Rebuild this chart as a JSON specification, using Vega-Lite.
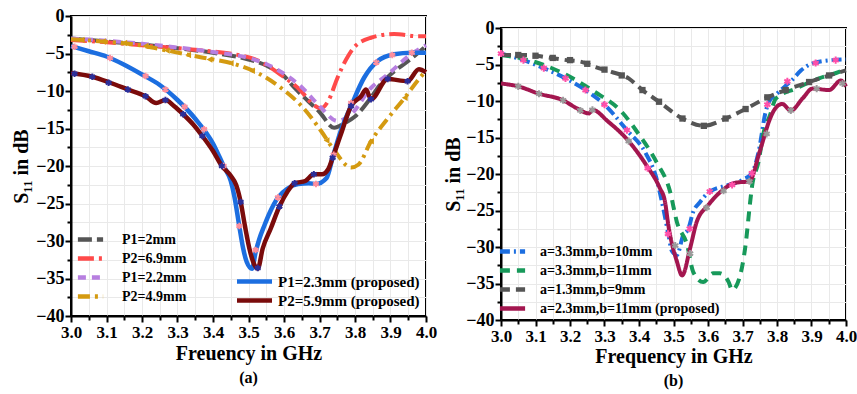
{
  "$schema": "https://vega.github.io/schema/vega-lite/v6.json",
  "padding": {"left": 10, "top": 6, "right": 4, "bottom": 0},
  "spacing": 4,
  "config": {
    "font": "Liberation Serif",
    "view": {"stroke": "black", "strokeWidth": 2},
    "axis": {
      "labelFont": "Liberation Serif", "labelFontWeight": "bold", "labelFontSize": 18, "labelColor": "black", "labelFlush": false,
      "titleFont": "Liberation Serif", "titleFontWeight": "bold", "titleFontSize": 20, "titleColor": "black",
      "domainColor": "black", "domainWidth": 2, "tickColor": "black", "tickWidth": 2,
      "gridColor": "#e9e9e9", "gridWidth": 1
    },
    "axisX": {"labelFontSize": 17},
    "legend": {
      "labelFont": "Liberation Serif", "labelFontWeight": "bold", "labelFontSize": 14, "labelColor": "black", "labelLimit": 400,
      "symbolStrokeWidth": 4.5, "title": null, "padding": 0
    },
    "title": {"font": "Liberation Serif", "fontWeight": "bold", "fontSize": 16, "color": "black"}
  },
  "datasets": {
    "a": [
      {"series": "P1=2mm", "f": 3.00, "s": -3.0}, {"series": "P1=2mm", "f": 3.10, "s": -3.4}, {"series": "P1=2mm", "f": 3.20, "s": -3.8}, {"series": "P1=2mm", "f": 3.30, "s": -4.3}, {"series": "P1=2mm", "f": 3.40, "s": -4.9}, {"series": "P1=2mm", "f": 3.50, "s": -5.8}, {"series": "P1=2mm", "f": 3.55, "s": -6.6}, {"series": "P1=2mm", "f": 3.60, "s": -8.0}, {"series": "P1=2mm", "f": 3.63, "s": -9.6}, {"series": "P1=2mm", "f": 3.667, "s": -11.3}, {"series": "P1=2mm", "f": 3.70, "s": -12.8}, {"series": "P1=2mm", "f": 3.741, "s": -14.9}, {"series": "P1=2mm", "f": 3.77, "s": -14.3}, {"series": "P1=2mm", "f": 3.80, "s": -13.4}, {"series": "P1=2mm", "f": 3.843, "s": -11.0}, {"series": "P1=2mm", "f": 3.87, "s": -9.2}, {"series": "P1=2mm", "f": 3.90, "s": -7.8}, {"series": "P1=2mm", "f": 3.95, "s": -6.0}, {"series": "P1=2mm", "f": 4.00, "s": -4.0},
      {"series": "P2=6.9mm", "f": 3.00, "s": -3.2}, {"series": "P2=6.9mm", "f": 3.10, "s": -3.5}, {"series": "P2=6.9mm", "f": 3.20, "s": -3.9}, {"series": "P2=6.9mm", "f": 3.30, "s": -4.3}, {"series": "P2=6.9mm", "f": 3.37, "s": -4.6}, {"series": "P2=6.9mm", "f": 3.46, "s": -5.1}, {"series": "P2=6.9mm", "f": 3.52, "s": -5.8}, {"series": "P2=6.9mm", "f": 3.59, "s": -7.8}, {"series": "P2=6.9mm", "f": 3.648, "s": -10.0}, {"series": "P2=6.9mm", "f": 3.68, "s": -11.7}, {"series": "P2=6.9mm", "f": 3.704, "s": -12.3}, {"series": "P2=6.9mm", "f": 3.725, "s": -11.3}, {"series": "P2=6.9mm", "f": 3.751, "s": -8.2}, {"series": "P2=6.9mm", "f": 3.775, "s": -5.8}, {"series": "P2=6.9mm", "f": 3.797, "s": -4.2}, {"series": "P2=6.9mm", "f": 3.845, "s": -2.9}, {"series": "P2=6.9mm", "f": 3.91, "s": -2.4}, {"series": "P2=6.9mm", "f": 3.977, "s": -2.7}, {"series": "P2=6.9mm", "f": 4.00, "s": -2.7},
      {"series": "P1=2.2mm", "f": 3.00, "s": -3.0}, {"series": "P1=2.2mm", "f": 3.10, "s": -3.3}, {"series": "P1=2.2mm", "f": 3.20, "s": -3.7}, {"series": "P1=2.2mm", "f": 3.30, "s": -4.2}, {"series": "P1=2.2mm", "f": 3.40, "s": -4.8}, {"series": "P1=2.2mm", "f": 3.50, "s": -5.6}, {"series": "P1=2.2mm", "f": 3.55, "s": -6.4}, {"series": "P1=2.2mm", "f": 3.60, "s": -7.7}, {"series": "P1=2.2mm", "f": 3.65, "s": -9.5}, {"series": "P1=2.2mm", "f": 3.70, "s": -12.0}, {"series": "P1=2.2mm", "f": 3.751, "s": -14.0}, {"series": "P1=2.2mm", "f": 3.789, "s": -13.1}, {"series": "P1=2.2mm", "f": 3.845, "s": -9.6}, {"series": "P1=2.2mm", "f": 3.892, "s": -7.8}, {"series": "P1=2.2mm", "f": 3.958, "s": -5.1}, {"series": "P1=2.2mm", "f": 4.00, "s": -3.9},
      {"series": "P2=4.9mm", "f": 3.00, "s": -3.1}, {"series": "P2=4.9mm", "f": 3.09, "s": -3.4}, {"series": "P2=4.9mm", "f": 3.18, "s": -3.8}, {"series": "P2=4.9mm", "f": 3.27, "s": -4.6}, {"series": "P2=4.9mm", "f": 3.365, "s": -5.5}, {"series": "P2=4.9mm", "f": 3.46, "s": -6.4}, {"series": "P2=4.9mm", "f": 3.53, "s": -7.7}, {"series": "P2=4.9mm", "f": 3.592, "s": -9.6}, {"series": "P2=4.9mm", "f": 3.657, "s": -12.4}, {"series": "P2=4.9mm", "f": 3.704, "s": -15.3}, {"series": "P2=4.9mm", "f": 3.74, "s": -17.8}, {"series": "P2=4.9mm", "f": 3.789, "s": -20.2}, {"series": "P2=4.9mm", "f": 3.81, "s": -19.8}, {"series": "P2=4.9mm", "f": 3.845, "s": -16.7}, {"series": "P2=4.9mm", "f": 3.89, "s": -13.8}, {"series": "P2=4.9mm", "f": 3.94, "s": -10.9}, {"series": "P2=4.9mm", "f": 3.98, "s": -8.4}, {"series": "P2=4.9mm", "f": 4.00, "s": -7.3},
      {"series": "P1=2.3mm (proposed)", "f": 3.00, "s": -4.0}, {"series": "P1=2.3mm (proposed)", "f": 3.05, "s": -4.7}, {"series": "P1=2.3mm (proposed)", "f": 3.10, "s": -5.4}, {"series": "P1=2.3mm (proposed)", "f": 3.15, "s": -6.5}, {"series": "P1=2.3mm (proposed)", "f": 3.20, "s": -7.8}, {"series": "P1=2.3mm (proposed)", "f": 3.25, "s": -9.2}, {"series": "P1=2.3mm (proposed)", "f": 3.30, "s": -11.2}, {"series": "P1=2.3mm (proposed)", "f": 3.35, "s": -13.7}, {"series": "P1=2.3mm (proposed)", "f": 3.40, "s": -17.0}, {"series": "P1=2.3mm (proposed)", "f": 3.43, "s": -20.0}, {"series": "P1=2.3mm (proposed)", "f": 3.45, "s": -22.0}, {"series": "P1=2.3mm (proposed)", "f": 3.46, "s": -24.0}, {"series": "P1=2.3mm (proposed)", "f": 3.474, "s": -28.0}, {"series": "P1=2.3mm (proposed)", "f": 3.485, "s": -31.0}, {"series": "P1=2.3mm (proposed)", "f": 3.495, "s": -32.8}, {"series": "P1=2.3mm (proposed)", "f": 3.51, "s": -33.7}, {"series": "P1=2.3mm (proposed)", "f": 3.52, "s": -31.5}, {"series": "P1=2.3mm (proposed)", "f": 3.53, "s": -29.8}, {"series": "P1=2.3mm (proposed)", "f": 3.545, "s": -27.9}, {"series": "P1=2.3mm (proposed)", "f": 3.56, "s": -26.2}, {"series": "P1=2.3mm (proposed)", "f": 3.583, "s": -24.2}, {"series": "P1=2.3mm (proposed)", "f": 3.61, "s": -23.0}, {"series": "P1=2.3mm (proposed)", "f": 3.64, "s": -22.4}, {"series": "P1=2.3mm (proposed)", "f": 3.67, "s": -22.3}, {"series": "P1=2.3mm (proposed)", "f": 3.69, "s": -22.4}, {"series": "P1=2.3mm (proposed)", "f": 3.72, "s": -21.6}, {"series": "P1=2.3mm (proposed)", "f": 3.737, "s": -18.9}, {"series": "P1=2.3mm (proposed)", "f": 3.76, "s": -15.3}, {"series": "P1=2.3mm (proposed)", "f": 3.789, "s": -12.0}, {"series": "P1=2.3mm (proposed)", "f": 3.826, "s": -8.2}, {"series": "P1=2.3mm (proposed)", "f": 3.864, "s": -6.0}, {"series": "P1=2.3mm (proposed)", "f": 3.91, "s": -5.1}, {"series": "P1=2.3mm (proposed)", "f": 3.96, "s": -4.9}, {"series": "P1=2.3mm (proposed)", "f": 4.00, "s": -4.9},
      {"series": "P2=5.9mm (proposed)", "f": 3.00, "s": -7.6}, {"series": "P2=5.9mm (proposed)", "f": 3.06, "s": -8.1}, {"series": "P2=5.9mm (proposed)", "f": 3.11, "s": -8.9}, {"series": "P2=5.9mm (proposed)", "f": 3.16, "s": -9.8}, {"series": "P2=5.9mm (proposed)", "f": 3.21, "s": -10.7}, {"series": "P2=5.9mm (proposed)", "f": 3.24, "s": -11.6}, {"series": "P2=5.9mm (proposed)", "f": 3.266, "s": -11.2}, {"series": "P2=5.9mm (proposed)", "f": 3.29, "s": -12.0}, {"series": "P2=5.9mm (proposed)", "f": 3.316, "s": -13.1}, {"series": "P2=5.9mm (proposed)", "f": 3.345, "s": -14.5}, {"series": "P2=5.9mm (proposed)", "f": 3.37, "s": -16.0}, {"series": "P2=5.9mm (proposed)", "f": 3.40, "s": -18.0}, {"series": "P2=5.9mm (proposed)", "f": 3.425, "s": -20.0}, {"series": "P2=5.9mm (proposed)", "f": 3.45, "s": -21.3}, {"series": "P2=5.9mm (proposed)", "f": 3.465, "s": -22.5}, {"series": "P2=5.9mm (proposed)", "f": 3.478, "s": -24.8}, {"series": "P2=5.9mm (proposed)", "f": 3.49, "s": -28.0}, {"series": "P2=5.9mm (proposed)", "f": 3.505, "s": -31.5}, {"series": "P2=5.9mm (proposed)", "f": 3.518, "s": -33.3}, {"series": "P2=5.9mm (proposed)", "f": 3.526, "s": -33.7}, {"series": "P2=5.9mm (proposed)", "f": 3.54, "s": -31.0}, {"series": "P2=5.9mm (proposed)", "f": 3.563, "s": -28.3}, {"series": "P2=5.9mm (proposed)", "f": 3.587, "s": -25.4}, {"series": "P2=5.9mm (proposed)", "f": 3.61, "s": -23.4}, {"series": "P2=5.9mm (proposed)", "f": 3.63, "s": -22.3}, {"series": "P2=5.9mm (proposed)", "f": 3.66, "s": -22.0}, {"series": "P2=5.9mm (proposed)", "f": 3.684, "s": -21.1}, {"series": "P2=5.9mm (proposed)", "f": 3.707, "s": -21.1}, {"series": "P2=5.9mm (proposed)", "f": 3.725, "s": -20.4}, {"series": "P2=5.9mm (proposed)", "f": 3.737, "s": -18.9}, {"series": "P2=5.9mm (proposed)", "f": 3.76, "s": -15.8}, {"series": "P2=5.9mm (proposed)", "f": 3.789, "s": -12.0}, {"series": "P2=5.9mm (proposed)", "f": 3.817, "s": -10.7}, {"series": "P2=5.9mm (proposed)", "f": 3.831, "s": -9.8}, {"series": "P2=5.9mm (proposed)", "f": 3.845, "s": -11.1}, {"series": "P2=5.9mm (proposed)", "f": 3.892, "s": -8.4}, {"series": "P2=5.9mm (proposed)", "f": 3.948, "s": -8.7}, {"series": "P2=5.9mm (proposed)", "f": 3.98, "s": -7.1}, {"series": "P2=5.9mm (proposed)", "f": 4.00, "s": -7.5}
    ],
    "am": [
      {"series": "P1=2.3mm (proposed)", "f": 3.01, "s": -4.1}, {"series": "P1=2.3mm (proposed)", "f": 3.11, "s": -5.6}, {"series": "P1=2.3mm (proposed)", "f": 3.21, "s": -8.0}, {"series": "P1=2.3mm (proposed)", "f": 3.266, "s": -9.8}, {"series": "P1=2.3mm (proposed)", "f": 3.32, "s": -12.1}, {"series": "P1=2.3mm (proposed)", "f": 3.375, "s": -15.1}, {"series": "P1=2.3mm (proposed)", "f": 3.43, "s": -20.0}, {"series": "P1=2.3mm (proposed)", "f": 3.474, "s": -28.0}, {"series": "P1=2.3mm (proposed)", "f": 3.52, "s": -31.2}, {"series": "P1=2.3mm (proposed)", "f": 3.583, "s": -24.2}, {"series": "P1=2.3mm (proposed)", "f": 3.69, "s": -22.4}, {"series": "P1=2.3mm (proposed)", "f": 3.74, "s": -18.5}, {"series": "P1=2.3mm (proposed)", "f": 3.789, "s": -11.6}, {"series": "P1=2.3mm (proposed)", "f": 3.86, "s": -6.2}, {"series": "P1=2.3mm (proposed)", "f": 3.905, "s": -5.2}, {"series": "P1=2.3mm (proposed)", "f": 3.96, "s": -4.9},
      {"series": "P2=5.9mm (proposed)", "f": 3.01, "s": -7.7}, {"series": "P2=5.9mm (proposed)", "f": 3.06, "s": -8.1}, {"series": "P2=5.9mm (proposed)", "f": 3.106, "s": -8.9}, {"series": "P2=5.9mm (proposed)", "f": 3.16, "s": -9.8}, {"series": "P2=5.9mm (proposed)", "f": 3.21, "s": -10.7}, {"series": "P2=5.9mm (proposed)", "f": 3.266, "s": -11.2}, {"series": "P2=5.9mm (proposed)", "f": 3.316, "s": -13.1}, {"series": "P2=5.9mm (proposed)", "f": 3.37, "s": -16.0}, {"series": "P2=5.9mm (proposed)", "f": 3.425, "s": -20.0}, {"series": "P2=5.9mm (proposed)", "f": 3.478, "s": -24.8}, {"series": "P2=5.9mm (proposed)", "f": 3.526, "s": -33.6}, {"series": "P2=5.9mm (proposed)", "f": 3.587, "s": -25.4}, {"series": "P2=5.9mm (proposed)", "f": 3.63, "s": -22.3}, {"series": "P2=5.9mm (proposed)", "f": 3.684, "s": -21.1}, {"series": "P2=5.9mm (proposed)", "f": 3.737, "s": -18.9}, {"series": "P2=5.9mm (proposed)", "f": 3.789, "s": -12.0}, {"series": "P2=5.9mm (proposed)", "f": 3.845, "s": -11.1}, {"series": "P2=5.9mm (proposed)", "f": 3.892, "s": -8.4}, {"series": "P2=5.9mm (proposed)", "f": 3.948, "s": -8.7},
      {"series": "P2=4.9mm", "f": 3.03, "s": -3.2}, {"series": "P2=4.9mm", "f": 3.09, "s": -3.4}, {"series": "P2=4.9mm", "f": 3.15, "s": -3.6}, {"series": "P2=4.9mm", "f": 3.21, "s": -4.0}, {"series": "P2=4.9mm", "f": 3.27, "s": -4.6}, {"series": "P2=4.9mm", "f": 3.33, "s": -5.2}, {"series": "P2=4.9mm", "f": 3.39, "s": -5.8}, {"series": "P2=4.9mm", "f": 3.45, "s": -6.3}, {"series": "P2=4.9mm", "f": 3.51, "s": -7.3}, {"series": "P2=4.9mm", "f": 3.72, "s": -16.6}, {"series": "P2=4.9mm", "f": 3.845, "s": -16.7}, {"series": "P2=4.9mm", "f": 3.94, "s": -10.9}
    ],
    "b": [
      {"series": "a=3.3mm,b=10mm", "f": 3.00, "s": -3.5}, {"series": "a=3.3mm,b=10mm", "f": 3.065, "s": -4.4}, {"series": "a=3.3mm,b=10mm", "f": 3.124, "s": -5.5}, {"series": "a=3.3mm,b=10mm", "f": 3.187, "s": -6.9}, {"series": "a=3.3mm,b=10mm", "f": 3.245, "s": -8.5}, {"series": "a=3.3mm,b=10mm", "f": 3.30, "s": -10.5}, {"series": "a=3.3mm,b=10mm", "f": 3.365, "s": -14.0}, {"series": "a=3.3mm,b=10mm", "f": 3.42, "s": -17.2}, {"series": "a=3.3mm,b=10mm", "f": 3.45, "s": -20.5}, {"series": "a=3.3mm,b=10mm", "f": 3.465, "s": -23.5}, {"series": "a=3.3mm,b=10mm", "f": 3.485, "s": -28.2}, {"series": "a=3.3mm,b=10mm", "f": 3.495, "s": -30.5}, {"series": "a=3.3mm,b=10mm", "f": 3.51, "s": -31.1}, {"series": "a=3.3mm,b=10mm", "f": 3.528, "s": -28.4}, {"series": "a=3.3mm,b=10mm", "f": 3.543, "s": -27.5}, {"series": "a=3.3mm,b=10mm", "f": 3.557, "s": -25.2}, {"series": "a=3.3mm,b=10mm", "f": 3.576, "s": -23.9}, {"series": "a=3.3mm,b=10mm", "f": 3.605, "s": -22.4}, {"series": "a=3.3mm,b=10mm", "f": 3.66, "s": -21.5}, {"series": "a=3.3mm,b=10mm", "f": 3.70, "s": -20.8}, {"series": "a=3.3mm,b=10mm", "f": 3.727, "s": -19.9}, {"series": "a=3.3mm,b=10mm", "f": 3.747, "s": -16.9}, {"series": "a=3.3mm,b=10mm", "f": 3.767, "s": -11.5}, {"series": "a=3.3mm,b=10mm", "f": 3.777, "s": -10.1}, {"series": "a=3.3mm,b=10mm", "f": 3.80, "s": -9.0}, {"series": "a=3.3mm,b=10mm", "f": 3.844, "s": -7.1}, {"series": "a=3.3mm,b=10mm", "f": 3.87, "s": -5.8}, {"series": "a=3.3mm,b=10mm", "f": 3.90, "s": -4.9}, {"series": "a=3.3mm,b=10mm", "f": 3.96, "s": -4.4}, {"series": "a=3.3mm,b=10mm", "f": 4.00, "s": -4.3},
      {"series": "a=3.3mm,b=11mm", "f": 3.00, "s": -3.7}, {"series": "a=3.3mm,b=11mm", "f": 3.08, "s": -4.4}, {"series": "a=3.3mm,b=11mm", "f": 3.18, "s": -6.2}, {"series": "a=3.3mm,b=11mm", "f": 3.27, "s": -8.7}, {"series": "a=3.3mm,b=11mm", "f": 3.35, "s": -11.5}, {"series": "a=3.3mm,b=11mm", "f": 3.40, "s": -14.6}, {"series": "a=3.3mm,b=11mm", "f": 3.45, "s": -18.3}, {"series": "a=3.3mm,b=11mm", "f": 3.49, "s": -22.4}, {"series": "a=3.3mm,b=11mm", "f": 3.51, "s": -26.6}, {"series": "a=3.3mm,b=11mm", "f": 3.54, "s": -29.8}, {"series": "a=3.3mm,b=11mm", "f": 3.557, "s": -33.4}, {"series": "a=3.3mm,b=11mm", "f": 3.586, "s": -34.8}, {"series": "a=3.3mm,b=11mm", "f": 3.615, "s": -33.6}, {"series": "a=3.3mm,b=11mm", "f": 3.634, "s": -33.6}, {"series": "a=3.3mm,b=11mm", "f": 3.66, "s": -34.8}, {"series": "a=3.3mm,b=11mm", "f": 3.67, "s": -35.9}, {"series": "a=3.3mm,b=11mm", "f": 3.69, "s": -34.4}, {"series": "a=3.3mm,b=11mm", "f": 3.71, "s": -29.3}, {"series": "a=3.3mm,b=11mm", "f": 3.72, "s": -24.8}, {"series": "a=3.3mm,b=11mm", "f": 3.727, "s": -21.9}, {"series": "a=3.3mm,b=11mm", "f": 3.747, "s": -18.2}, {"series": "a=3.3mm,b=11mm", "f": 3.76, "s": -14.6}, {"series": "a=3.3mm,b=11mm", "f": 3.78, "s": -11.9}, {"series": "a=3.3mm,b=11mm", "f": 3.796, "s": -9.7}, {"series": "a=3.3mm,b=11mm", "f": 3.854, "s": -8.3}, {"series": "a=3.3mm,b=11mm", "f": 3.922, "s": -6.9}, {"series": "a=3.3mm,b=11mm", "f": 3.98, "s": -6.0}, {"series": "a=3.3mm,b=11mm", "f": 4.00, "s": -5.6},
      {"series": "a=1.3mm,b=9mm", "f": 3.00, "s": -3.7}, {"series": "a=1.3mm,b=9mm", "f": 3.08, "s": -3.7}, {"series": "a=1.3mm,b=9mm", "f": 3.13, "s": -4.0}, {"series": "a=1.3mm,b=9mm", "f": 3.19, "s": -4.4}, {"series": "a=1.3mm,b=9mm", "f": 3.23, "s": -4.6}, {"series": "a=1.3mm,b=9mm", "f": 3.27, "s": -5.3}, {"series": "a=1.3mm,b=9mm", "f": 3.32, "s": -6.0}, {"series": "a=1.3mm,b=9mm", "f": 3.37, "s": -6.9}, {"series": "a=1.3mm,b=9mm", "f": 3.41, "s": -8.5}, {"series": "a=1.3mm,b=9mm", "f": 3.458, "s": -10.1}, {"series": "a=1.3mm,b=9mm", "f": 3.526, "s": -12.4}, {"series": "a=1.3mm,b=9mm", "f": 3.588, "s": -13.4}, {"series": "a=1.3mm,b=9mm", "f": 3.651, "s": -12.4}, {"series": "a=1.3mm,b=9mm", "f": 3.709, "s": -11.1}, {"series": "a=1.3mm,b=9mm", "f": 3.772, "s": -9.5}, {"series": "a=1.3mm,b=9mm", "f": 3.825, "s": -8.5}, {"series": "a=1.3mm,b=9mm", "f": 3.893, "s": -7.4}, {"series": "a=1.3mm,b=9mm", "f": 3.951, "s": -6.5}, {"series": "a=1.3mm,b=9mm", "f": 4.00, "s": -5.8},
      {"series": "a=2.3mm,b=11mm (proposed)", "f": 3.00, "s": -7.6}, {"series": "a=2.3mm,b=11mm (proposed)", "f": 3.05, "s": -8.0}, {"series": "a=2.3mm,b=11mm (proposed)", "f": 3.11, "s": -9.0}, {"series": "a=2.3mm,b=11mm (proposed)", "f": 3.18, "s": -9.9}, {"series": "a=2.3mm,b=11mm (proposed)", "f": 3.22, "s": -11.0}, {"series": "a=2.3mm,b=11mm (proposed)", "f": 3.255, "s": -11.7}, {"series": "a=2.3mm,b=11mm (proposed)", "f": 3.265, "s": -11.2}, {"series": "a=2.3mm,b=11mm (proposed)", "f": 3.31, "s": -12.8}, {"series": "a=2.3mm,b=11mm (proposed)", "f": 3.37, "s": -15.5}, {"series": "a=2.3mm,b=11mm (proposed)", "f": 3.42, "s": -18.7}, {"series": "a=2.3mm,b=11mm (proposed)", "f": 3.46, "s": -21.9}, {"series": "a=2.3mm,b=11mm (proposed)", "f": 3.475, "s": -23.7}, {"series": "a=2.3mm,b=11mm (proposed)", "f": 3.485, "s": -27.0}, {"series": "a=2.3mm,b=11mm (proposed)", "f": 3.51, "s": -32.0}, {"series": "a=2.3mm,b=11mm (proposed)", "f": 3.525, "s": -33.9}, {"series": "a=2.3mm,b=11mm (proposed)", "f": 3.548, "s": -30.2}, {"series": "a=2.3mm,b=11mm (proposed)", "f": 3.567, "s": -26.6}, {"series": "a=2.3mm,b=11mm (proposed)", "f": 3.60, "s": -24.3}, {"series": "a=2.3mm,b=11mm (proposed)", "f": 3.635, "s": -22.5}, {"series": "a=2.3mm,b=11mm (proposed)", "f": 3.68, "s": -21.2}, {"series": "a=2.3mm,b=11mm (proposed)", "f": 3.72, "s": -21.0}, {"series": "a=2.3mm,b=11mm (proposed)", "f": 3.75, "s": -16.9}, {"series": "a=2.3mm,b=11mm (proposed)", "f": 3.78, "s": -12.4}, {"series": "a=2.3mm,b=11mm (proposed)", "f": 3.791, "s": -11.3}, {"series": "a=2.3mm,b=11mm (proposed)", "f": 3.815, "s": -10.4}, {"series": "a=2.3mm,b=11mm (proposed)", "f": 3.84, "s": -11.3}, {"series": "a=2.3mm,b=11mm (proposed)", "f": 3.875, "s": -9.6}, {"series": "a=2.3mm,b=11mm (proposed)", "f": 3.903, "s": -8.3}, {"series": "a=2.3mm,b=11mm (proposed)", "f": 3.951, "s": -8.5}, {"series": "a=2.3mm,b=11mm (proposed)", "f": 3.985, "s": -7.2}, {"series": "a=2.3mm,b=11mm (proposed)", "f": 4.00, "s": -8.0}
    ],
    "bm": [
      {"series": "a=3.3mm,b=10mm", "f": 3.0, "s": -3.5}, {"series": "a=3.3mm,b=10mm", "f": 3.065, "s": -4.4}, {"series": "a=3.3mm,b=10mm", "f": 3.124, "s": -5.5}, {"series": "a=3.3mm,b=10mm", "f": 3.187, "s": -6.9}, {"series": "a=3.3mm,b=10mm", "f": 3.245, "s": -8.5}, {"series": "a=3.3mm,b=10mm", "f": 3.30, "s": -10.5}, {"series": "a=3.3mm,b=10mm", "f": 3.365, "s": -14.0}, {"series": "a=3.3mm,b=10mm", "f": 3.425, "s": -19.2}, {"series": "a=3.3mm,b=10mm", "f": 3.484, "s": -28.2}, {"series": "a=3.3mm,b=10mm", "f": 3.547, "s": -27.5}, {"series": "a=3.3mm,b=10mm", "f": 3.605, "s": -22.4}, {"series": "a=3.3mm,b=10mm", "f": 3.67, "s": -21.5}, {"series": "a=3.3mm,b=10mm", "f": 3.727, "s": -19.9}, {"series": "a=3.3mm,b=10mm", "f": 3.772, "s": -10.5}, {"series": "a=3.3mm,b=10mm", "f": 3.83, "s": -7.3}, {"series": "a=3.3mm,b=10mm", "f": 3.912, "s": -4.8}, {"series": "a=3.3mm,b=10mm", "f": 3.97, "s": -4.4},
      {"series": "a=1.3mm,b=9mm", "f": 3.05, "s": -3.7}, {"series": "a=1.3mm,b=9mm", "f": 3.10, "s": -3.8}, {"series": "a=1.3mm,b=9mm", "f": 3.15, "s": -4.1}, {"series": "a=1.3mm,b=9mm", "f": 3.20, "s": -4.4}, {"series": "a=1.3mm,b=9mm", "f": 3.25, "s": -4.9}, {"series": "a=1.3mm,b=9mm", "f": 3.30, "s": -5.7}, {"series": "a=1.3mm,b=9mm", "f": 3.35, "s": -6.5}, {"series": "a=1.3mm,b=9mm", "f": 3.41, "s": -8.5}, {"series": "a=1.3mm,b=9mm", "f": 3.458, "s": -10.1}, {"series": "a=1.3mm,b=9mm", "f": 3.526, "s": -12.4}, {"series": "a=1.3mm,b=9mm", "f": 3.588, "s": -13.4}, {"series": "a=1.3mm,b=9mm", "f": 3.651, "s": -12.4}, {"series": "a=1.3mm,b=9mm", "f": 3.709, "s": -11.1}, {"series": "a=1.3mm,b=9mm", "f": 3.772, "s": -9.5}, {"series": "a=1.3mm,b=9mm", "f": 3.825, "s": -8.5}, {"series": "a=1.3mm,b=9mm", "f": 3.893, "s": -7.4}, {"series": "a=1.3mm,b=9mm", "f": 3.951, "s": -6.5},
      {"series": "a=2.3mm,b=11mm (proposed)", "f": 3.05, "s": -8.0}, {"series": "a=2.3mm,b=11mm (proposed)", "f": 3.11, "s": -9.0}, {"series": "a=2.3mm,b=11mm (proposed)", "f": 3.18, "s": -9.9}, {"series": "a=2.3mm,b=11mm (proposed)", "f": 3.23, "s": -11.3}, {"series": "a=2.3mm,b=11mm (proposed)", "f": 3.265, "s": -11.2}, {"series": "a=2.3mm,b=11mm (proposed)", "f": 3.37, "s": -15.5}, {"series": "a=2.3mm,b=11mm (proposed)", "f": 3.505, "s": -29.8}, {"series": "a=2.3mm,b=11mm (proposed)", "f": 3.548, "s": -30.9}, {"series": "a=2.3mm,b=11mm (proposed)", "f": 3.596, "s": -24.6}, {"series": "a=2.3mm,b=11mm (proposed)", "f": 3.645, "s": -22.3}, {"series": "a=2.3mm,b=11mm (proposed)", "f": 3.72, "s": -21.0}, {"series": "a=2.3mm,b=11mm (proposed)", "f": 3.77, "s": -14.5}, {"series": "a=2.3mm,b=11mm (proposed)", "f": 3.84, "s": -11.3}, {"series": "a=2.3mm,b=11mm (proposed)", "f": 3.915, "s": -8.3}, {"series": "a=2.3mm,b=11mm (proposed)", "f": 3.99, "s": -7.6}
    ]
  },
  "hconcat": [
    {
      "width": 355, "height": 300,
      "title": {"text": "(a)", "orient": "bottom", "offset": 7},
      "encoding": {
        "x": {"field": "f", "type": "quantitative", "scale": {"domain": [3.0, 4.0], "nice": false, "zero": false},
          "axis": {"title": "Freuency in GHz", "values": [3.0, 3.05, 3.1, 3.15, 3.2, 3.25, 3.3, 3.35, 3.4, 3.45, 3.5, 3.55, 3.6, 3.65, 3.7, 3.75, 3.8, 3.85, 3.9, 3.95, 4.0],
            "labelExpr": "abs(datum.value*10 - round(datum.value*10)) < 0.01 ? format(datum.value, '.1f') : ''",
            "tickSize": {"condition": {"test": "abs(datum.value*10 - round(datum.value*10)) < 0.01", "value": 6}, "value": 4},
            "labelPadding": 2, "titlePadding": 3}},
        "y": {"field": "s", "type": "quantitative", "scale": {"domain": [-40, 0], "nice": false},
          "axis": {"title": "S₁₁ in dB", "values": [-40, -37.5, -35, -32.5, -30, -27.5, -25, -22.5, -20, -17.5, -15, -12.5, -10, -7.5, -5, -2.5, 0],
            "labelExpr": "datum.value % 5 == 0 ? format(datum.value, 'd') : ''",
            "tickSize": {"condition": {"test": "datum.value % 5 == 0", "value": 6}, "value": 4},
            "labelPadding": 1, "titlePadding": 4}}
      },
      "layer": [
        {
          "data": {"name": "a"},
          "transform": [{"filter": {"field": "series", "oneOf": ["P1=2mm", "P2=6.9mm", "P1=2.2mm", "P2=4.9mm"]}}],
          "mark": {"type": "line", "interpolate": "monotone", "strokeWidth": 4},
          "encoding": {
            "color": {"field": "series", "type": "nominal",
              "scale": {"domain": ["P1=2mm", "P2=6.9mm", "P1=2.2mm", "P2=4.9mm"], "range": ["#555555", "#ff4a4a", "#b77fe0", "#d49a10"]},
              "legend": {"orient": "bottom-left", "offset": 10, "symbolType": "M-1.8,0L1.8,0", "symbolSize": 196, "rowPadding": 0, "labelOffset": 22}},
            "strokeDash": {"field": "series", "type": "nominal",
              "scale": {"domain": ["P1=2mm", "P2=6.9mm", "P1=2.2mm", "P2=4.9mm"], "range": [[14, 5], [16, 5, 3, 5], [8, 6], [12, 5, 3, 5]]},
              "legend": {"orient": "bottom-left", "offset": 10, "symbolType": "M-1.8,0L1.8,0", "symbolSize": 196, "rowPadding": 0, "labelOffset": 22}}
          }
        },
        {
          "data": {"name": "a"},
          "transform": [{"filter": {"field": "series", "oneOf": ["P1=2.3mm (proposed)", "P2=5.9mm (proposed)"]}}],
          "mark": {"type": "line", "interpolate": "monotone", "strokeWidth": 4.5},
          "encoding": {
            "color": {"field": "series", "type": "nominal",
              "scale": {"domain": ["P1=2.3mm (proposed)", "P2=5.9mm (proposed)"], "range": ["#1c6ee0", "#7a0b0b"]},
              "legend": {"orient": "bottom-right", "offset": 6, "symbolType": "M-2.5,0L2.5,0", "symbolSize": 196, "rowPadding": -3, "labelOffset": 14, "labelFontSize": 15}}
          }
        },
        {
          "data": {"name": "am"},
          "transform": [{"filter": {"field": "series", "oneOf": ["P1=2.3mm (proposed)", "P2=5.9mm (proposed)"]}}],
          "mark": {"type": "point", "filled": false, "strokeWidth": 2, "size": 45, "opacity": 1,
            "shape": "M0,-1L0,1M-0.87,-0.5L0.87,0.5M-0.87,0.5L0.87,-0.5"},
          "encoding": {
            "color": {"field": "series", "type": "nominal",
              "scale": {"domain": ["P1=2.3mm (proposed)", "P2=5.9mm (proposed)"], "range": ["#ff8f9c", "#2b2f9a"]}, "legend": null}
          }
        },
        {
          "data": {"name": "am"},
          "transform": [{"filter": {"field": "series", "equal": "P2=4.9mm"}}],
          "mark": {"type": "point", "filled": true, "size": 45, "opacity": 1, "shape": "triangle-left", "color": "#d49a10"}
        },
        {
          "mark": {"type": "text", "fontSize": 11, "fontWeight": "bold", "font": "Liberation Serif", "color": "#222222"},
          "encoding": {"x": {"datum": 3.47}, "y": {"datum": -2.0}, "text": {"value": "Protruded strip width (P₁),length(P₂)"}}
        }
      ],
      "resolve": {"scale": {"color": "independent", "strokeDash": "independent"}}
    },
    {
      "spacing": 0,
      "vconcat": [
        {
          "width": 345, "height": 2,
          "view": {"stroke": null},
          "data": {"values": []},
          "mark": "point",
          "encoding": {}
        },
        {
          "width": 345, "height": 292,
          "title": {"text": "(b)", "orient": "bottom", "offset": 7},
          "encoding": {
            "x": {"field": "f", "type": "quantitative", "scale": {"domain": [3.0, 4.0], "nice": false, "zero": false},
              "axis": {"title": "Frequency in GHz", "values": [3.0, 3.05, 3.1, 3.15, 3.2, 3.25, 3.3, 3.35, 3.4, 3.45, 3.5, 3.55, 3.6, 3.65, 3.7, 3.75, 3.8, 3.85, 3.9, 3.95, 4.0],
                "labelExpr": "abs(datum.value*10 - round(datum.value*10)) < 0.01 ? format(datum.value, '.1f') : ''",
                "tickSize": {"condition": {"test": "abs(datum.value*10 - round(datum.value*10)) < 0.01", "value": 6}, "value": 4},
                "labelPadding": 2, "titlePadding": 2}},
            "y": {"field": "s", "type": "quantitative", "scale": {"domain": [-40, 0], "nice": false},
              "axis": {"title": "S₁₁ in dB", "values": [-40, -37.5, -35, -32.5, -30, -27.5, -25, -22.5, -20, -17.5, -15, -12.5, -10, -7.5, -5, -2.5, 0],
                "labelExpr": "datum.value % 5 == 0 ? format(datum.value, 'd') : ''",
                "tickSize": {"condition": {"test": "datum.value % 5 == 0", "value": 6}, "value": 4},
                "labelPadding": 1, "titlePadding": 2}}
          },
          "layer": [
            {
              "data": {"name": "b"},
              "mark": {"type": "line", "interpolate": "monotone", "strokeWidth": 4},
              "encoding": {
                "color": {"field": "series", "type": "nominal",
                  "scale": {"domain": ["a=3.3mm,b=10mm", "a=3.3mm,b=11mm", "a=1.3mm,b=9mm", "a=2.3mm,b=11mm (proposed)"], "range": ["#1c6ee0", "#17995a", "#555555", "#a3164f"]},
                  "legend": {"orient": "bottom-left", "offset": 2, "symbolType": "M-1.8,0L1.8,0", "symbolSize": 196, "rowPadding": -1, "labelOffset": 18}},
                "strokeDash": {"field": "series", "type": "nominal",
                  "scale": {"domain": ["a=3.3mm,b=10mm", "a=3.3mm,b=11mm", "a=1.3mm,b=9mm", "a=2.3mm,b=11mm (proposed)"], "range": [[10, 4, 2, 4], [10, 7], [10, 6], [1, 0]]},
                  "legend": {"orient": "bottom-left", "offset": 2, "symbolType": "M-1.8,0L1.8,0", "symbolSize": 196, "rowPadding": -1, "labelOffset": 18}}
              }
            },
            {
              "data": {"name": "bm"},
              "transform": [{"filter": {"field": "series", "oneOf": ["a=3.3mm,b=10mm", "a=2.3mm,b=11mm (proposed)"]}}],
              "mark": {"type": "point", "filled": false, "strokeWidth": 2, "size": 50, "opacity": 1,
                "shape": "M0,-1L0,1M-0.87,-0.5L0.87,0.5M-0.87,0.5L0.87,-0.5"},
              "encoding": {
                "color": {"field": "series", "type": "nominal",
                  "scale": {"domain": ["a=3.3mm,b=10mm", "a=2.3mm,b=11mm (proposed)"], "range": ["#ff4fa8", "#9a9a9a"]}, "legend": null}
              }
            },
            {
              "data": {"name": "bm"},
              "transform": [{"filter": {"field": "series", "equal": "a=1.3mm,b=9mm"}}],
              "mark": {"type": "point", "filled": true, "size": 40, "opacity": 1, "shape": "square", "color": "#555555"}
            },
            {
              "mark": {"type": "text", "fontSize": 13, "fontWeight": "bold", "font": "Liberation Serif", "color": "#222222"},
              "encoding": {"x": {"datum": 3.574}, "y": {"datum": -3.0}, "text": {"value": "Ground Stub width(a) & length(b)"}}
            }
          ],
          "resolve": {"scale": {"color": "independent", "strokeDash": "independent"}}
        }
      ]
    }
  ]
}
